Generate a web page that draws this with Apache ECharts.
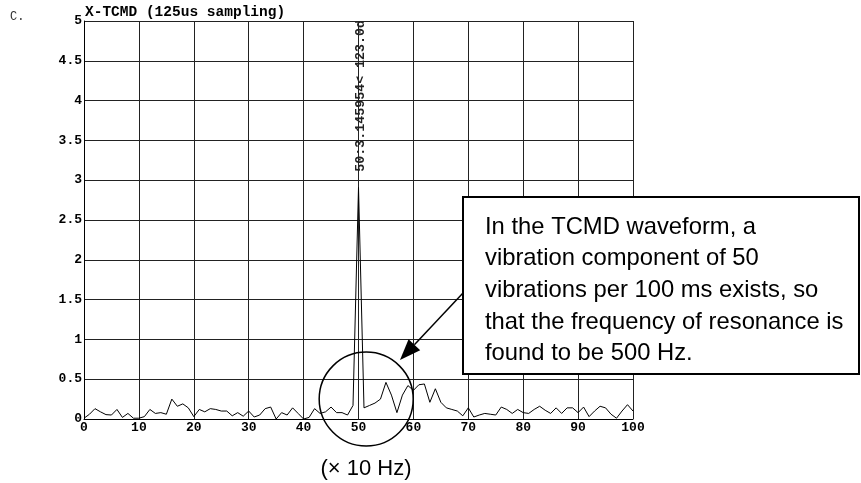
<!DOCTYPE html>
<html>
<head>
<meta charset="utf-8">
<title>X-TCMD spectrum</title>
<script src="https://cdn.jsdelivr.net/npm/echarts@6/dist/echarts.min.js"></script>
<style>
  html, body { margin: 0; padding: 0; background: #fff; }
  #main { width: 861px; height: 483px; }
</style>
</head>
<body>
<div id="main"></div>
<script>
// amplitude per frequency bin (bin index = x, unit x10 Hz)
const amplitude = [
  0.01, 0.06, 0.13, 0.09, 0.055, 0.05, 0.12, 0.02, 0.07, 0.01,
  0.01, 0.03, 0.12, 0.07, 0.08, 0.06, 0.25, 0.16, 0.19, 0.14,
  0.03, 0.12, 0.09, 0.13, 0.12, 0.10, 0.10, 0.04, 0.08, 0.035,
  0.10, 0.025, 0.05, 0.13, 0.15, 0.0, 0.08, 0.05, 0.14, 0.07,
  0.0, 0.02, 0.13, 0.07, 0.09, 0.15, 0.08, 0.08, 0.05, 0.17,
  2.91, 0.14, 0.17, 0.20, 0.25, 0.46, 0.30, 0.08, 0.30, 0.42,
  0.36, 0.43, 0.44, 0.21, 0.38, 0.21, 0.14, 0.12, 0.10, 0.04,
  0.14, 0.025, 0.05, 0.07, 0.06, 0.05, 0.15, 0.12, 0.07, 0.12,
  0.08, 0.07, 0.12, 0.16, 0.11, 0.07, 0.14, 0.07, 0.14, 0.14,
  0.08, 0.15, 0.03, 0.10, 0.16, 0.14, 0.06, 0.01, 0.10, 0.18,
  0.10
];
const xTicks = { min: 0, max: 100, step: 10 };
const yTicks = { min: 0, max: 5, step: 0.5 };

const chartTitle = 'X-TCMD (125us sampling)';
const cursorText = '50:3.145954< 123.0d';
const cursorAt = [50, 4.06];
const noteLines = [
  'In the TCMD waveform, a',
  'vibration component of 50',
  'vibrations per 100 ms exists, so',
  'that the frequency of resonance is',
  'found to be 500 Hz.'
];
const unitText = '(\u00d7 10 Hz)';
const circleAt = [51.4, 0.25];

const seriesData = amplitude.map((v, i) => [i, v]);

const mono = 'Liberation Mono';
const sans = 'Liberation Sans';

const chart = echarts.init(document.getElementById('main'), null, { renderer: 'canvas' });

const option = {
  animation: false,
  backgroundColor: '#fff',
  grid: { left: 84, right: 228, top: 21, bottom: 64, containLabel: false },
  xAxis: {
    type: 'value',
    min: xTicks.min,
    max: xTicks.max,
    interval: xTicks.step,
    axisLine: { show: true, lineStyle: { color: '#000', width: 1 } },
    axisTick: { show: false },
    axisLabel: {
      margin: 2,
      color: '#000',
      fontFamily: mono,
      fontWeight: 'bold',
      fontSize: 13
    },
    splitLine: { show: true, lineStyle: { color: '#222', width: 1 } }
  },
  yAxis: {
    type: 'value',
    min: yTicks.min,
    max: yTicks.max,
    interval: yTicks.step,
    axisLine: { show: true, lineStyle: { color: '#000', width: 1 } },
    axisTick: { show: false },
    axisLabel: {
      margin: 2,
      color: '#000',
      fontFamily: mono,
      fontWeight: 'bold',
      fontSize: 13
    },
    splitLine: { show: true, lineStyle: { color: '#222', width: 1 } }
  },
  series: [
    {
      type: 'line',
      data: seriesData,
      showSymbol: false,
      symbol: 'none',
      lineStyle: { color: '#000', width: 1 },
      z: 3
    }
  ]
};

chart.setOption(option);

// annotation layer, anchored to data coords where it makes sense
const cur = chart.convertToPixel({ gridIndex: 0 }, cursorAt);
const circ = chart.convertToPixel({ gridIndex: 0 }, circleAt);

const boxX = 463, boxY = 197, boxW = 396, boxH = 177;
const tip = [400, 360];
const tail = [463, 293];
const ang = Math.atan2(tail[1] - tip[1], tail[0] - tip[0]);
const headLen = 21, headHalf = 8;
const bx = tip[0] + Math.cos(ang) * headLen, by = tip[1] + Math.sin(ang) * headLen;
const head = [
  tip,
  [bx - Math.sin(ang) * headHalf, by + Math.cos(ang) * headHalf],
  [bx + Math.sin(ang) * headHalf, by - Math.cos(ang) * headHalf]
];

const graphics = [
  {
    type: 'text', left: 10, top: 11, z: 10,
    style: { text: 'C.', fill: '#333', font: '12px ' + mono }
  },
  {
    type: 'text', x: 85, y: 20, z: 10,
    style: {
      text: chartTitle, fill: '#000',
      font: 'bold 14.5px ' + mono,
      textVerticalAlign: 'bottom'
    }
  },
  {
    type: 'text', x: cur[0] + 2, y: cur[1], rotation: Math.PI / 2, z: 10,
    style: {
      text: cursorText, fill: '#222',
      font: 'bold 13.3px ' + mono,
      textAlign: 'center', textVerticalAlign: 'middle'
    }
  },
  {
    type: 'circle', z: 8,
    shape: { cx: circ[0], cy: circ[1], r: 47 },
    style: { fill: 'none', stroke: '#000', lineWidth: 1.5 }
  },
  {
    type: 'rect', z: 9,
    shape: { x: boxX, y: boxY, width: boxW, height: boxH },
    style: { fill: '#fff', stroke: '#000', lineWidth: 2 }
  },
  {
    type: 'line', z: 9,
    shape: { x1: tail[0], y1: tail[1], x2: bx, y2: by },
    style: { stroke: '#000', lineWidth: 1.5 }
  },
  {
    type: 'polygon', z: 9,
    shape: { points: head },
    style: { fill: '#000' }
  },
  {
    type: 'text', x: 366, y: 469, z: 10,
    style: {
      text: unitText, fill: '#000',
      font: '22px ' + sans,
      textAlign: 'center', textVerticalAlign: 'middle'
    }
  }
];

noteLines.forEach((line, i) => {
  graphics.push({
    type: 'text', x: 485, y: 227 + i * 31.7, z: 11,
    style: {
      text: line, fill: '#000',
      font: '23.8px ' + sans,
      textVerticalAlign: 'middle'
    }
  });
});

chart.setOption({ graphic: graphics });
</script>
</body>
</html>
